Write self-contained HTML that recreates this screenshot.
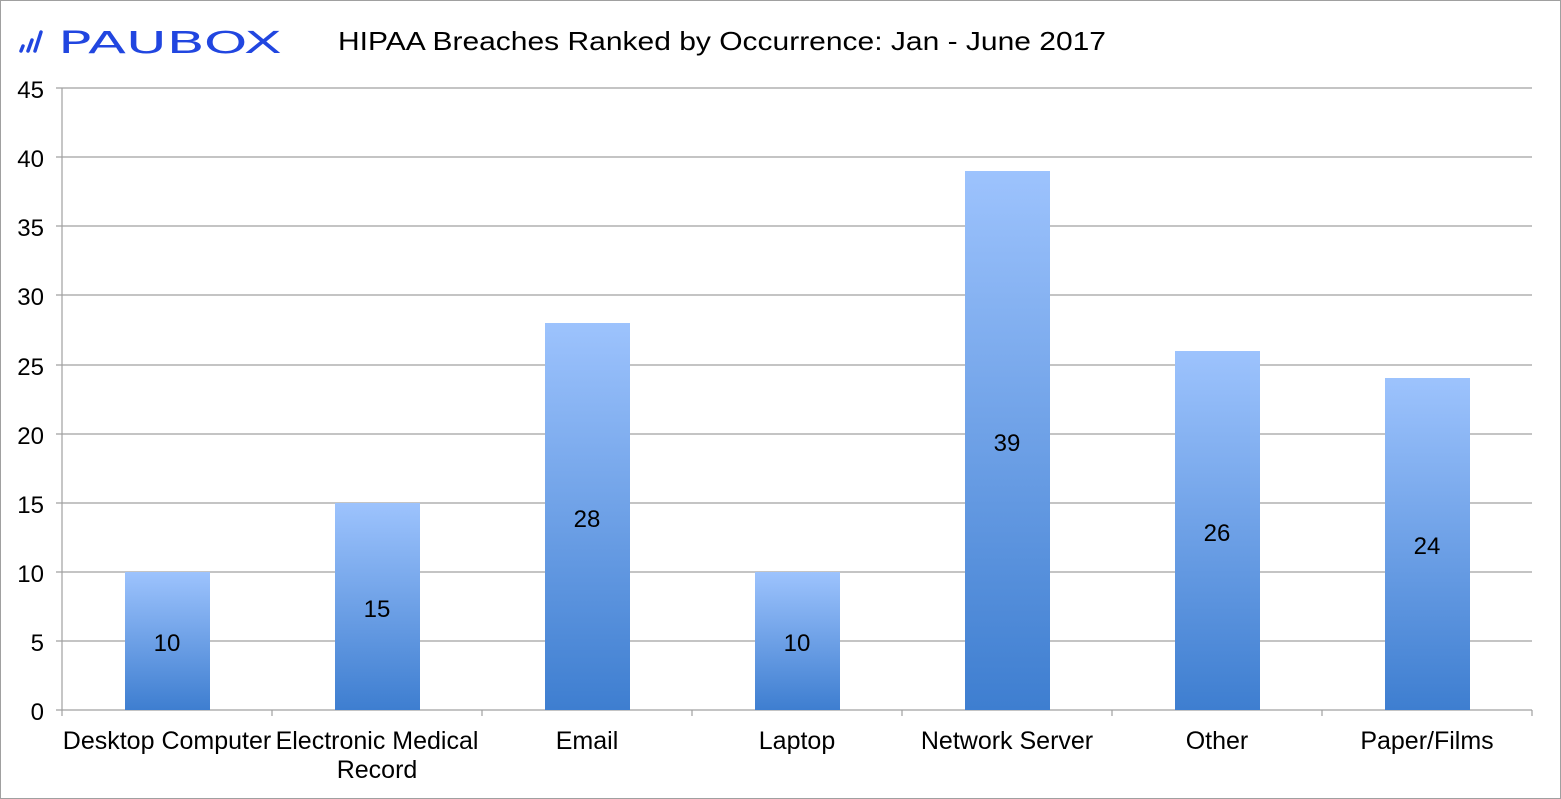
<!DOCTYPE html>
<html><head><meta charset="utf-8"><style>
body{margin:0;background:#fff}
svg{display:block;font-family:"Liberation Sans",Arial,sans-serif}
</style></head><body>
<svg width="1561" height="799" viewBox="0 0 1561 799" xmlns="http://www.w3.org/2000/svg">
<defs><linearGradient id="g" x1="0" y1="0" x2="0" y2="1">
<stop offset="0" stop-color="#9dc3fd"/><stop offset="1" stop-color="#3e7ed0"/></linearGradient></defs>
<rect x="0.5" y="0.5" width="1560" height="798" fill="#fff" stroke="#a0a0a0"/>
<g stroke="#2146e0" stroke-width="3.5" stroke-linecap="round" fill="none">
<line x1="21" y1="51" x2="23" y2="46"/><line x1="28" y1="51" x2="32" y2="40"/><line x1="35" y1="51" x2="41" y2="32"/>
</g>
<text x="58" y="53" font-size="30" fill="#2146e0" textLength="224" lengthAdjust="spacingAndGlyphs" style="font-family:'DejaVu Sans',sans-serif">PAUBOX</text>
<text x="338" y="50" font-size="26" fill="#000" textLength="768" lengthAdjust="spacingAndGlyphs">HIPAA Breaches Ranked by Occurrence: Jan - June 2017</text>
<g stroke="#a0a0a0" stroke-width="1.2">
<line x1="56" y1="88" x2="1532" y2="88"/><line x1="56" y1="157" x2="1532" y2="157"/>
<line x1="56" y1="226" x2="1532" y2="226"/><line x1="56" y1="295" x2="1532" y2="295"/>
<line x1="56" y1="365" x2="1532" y2="365"/><line x1="56" y1="434" x2="1532" y2="434"/>
<line x1="56" y1="503" x2="1532" y2="503"/><line x1="56" y1="572" x2="1532" y2="572"/>
<line x1="56" y1="641" x2="1532" y2="641"/><line x1="56" y1="710" x2="1532" y2="710"/>
<line x1="62" y1="88" x2="62" y2="716"/>
<line x1="272" y1="710" x2="272" y2="716"/><line x1="482" y1="710" x2="482" y2="716"/>
<line x1="692" y1="710" x2="692" y2="716"/><line x1="902" y1="710" x2="902" y2="716"/>
<line x1="1112" y1="710" x2="1112" y2="716"/><line x1="1322" y1="710" x2="1322" y2="716"/>
<line x1="1532" y1="710" x2="1532" y2="716"/>
</g>
<g font-size="24" fill="#000" text-anchor="end">
<text x="44" y="98">45</text><text x="44" y="167">40</text><text x="44" y="236">35</text>
<text x="44" y="305">30</text><text x="44" y="375">25</text><text x="44" y="444">20</text>
<text x="44" y="513">15</text><text x="44" y="582">10</text><text x="44" y="651">5</text><text x="44" y="720">0</text>
</g>
<g fill="url(#g)">
<rect x="125" y="572" width="85" height="138"/>
<rect x="335" y="503" width="85" height="207"/>
<rect x="545" y="323" width="85" height="387"/>
<rect x="755" y="572" width="85" height="138"/>
<rect x="965" y="171" width="85" height="539"/>
<rect x="1175" y="351" width="85" height="359"/>
<rect x="1385" y="378" width="85" height="332"/>
</g>
<g font-size="24" fill="#000" text-anchor="middle">
<text x="167" y="651">10</text><text x="377" y="617">15</text><text x="587" y="527">28</text>
<text x="797" y="651">10</text><text x="1007" y="451">39</text><text x="1217" y="541">26</text>
<text x="1427" y="554">24</text>
</g>
<g font-size="25" fill="#000" text-anchor="middle">
<text x="167" y="749">Desktop Computer</text><text x="377" y="749">Electronic Medical</text>
<text x="377" y="778">Record</text><text x="587" y="749">Email</text><text x="797" y="749">Laptop</text>
<text x="1007" y="749">Network Server</text><text x="1217" y="749">Other</text><text x="1427" y="749">Paper/Films</text>
</g>
</svg>
</body></html>
